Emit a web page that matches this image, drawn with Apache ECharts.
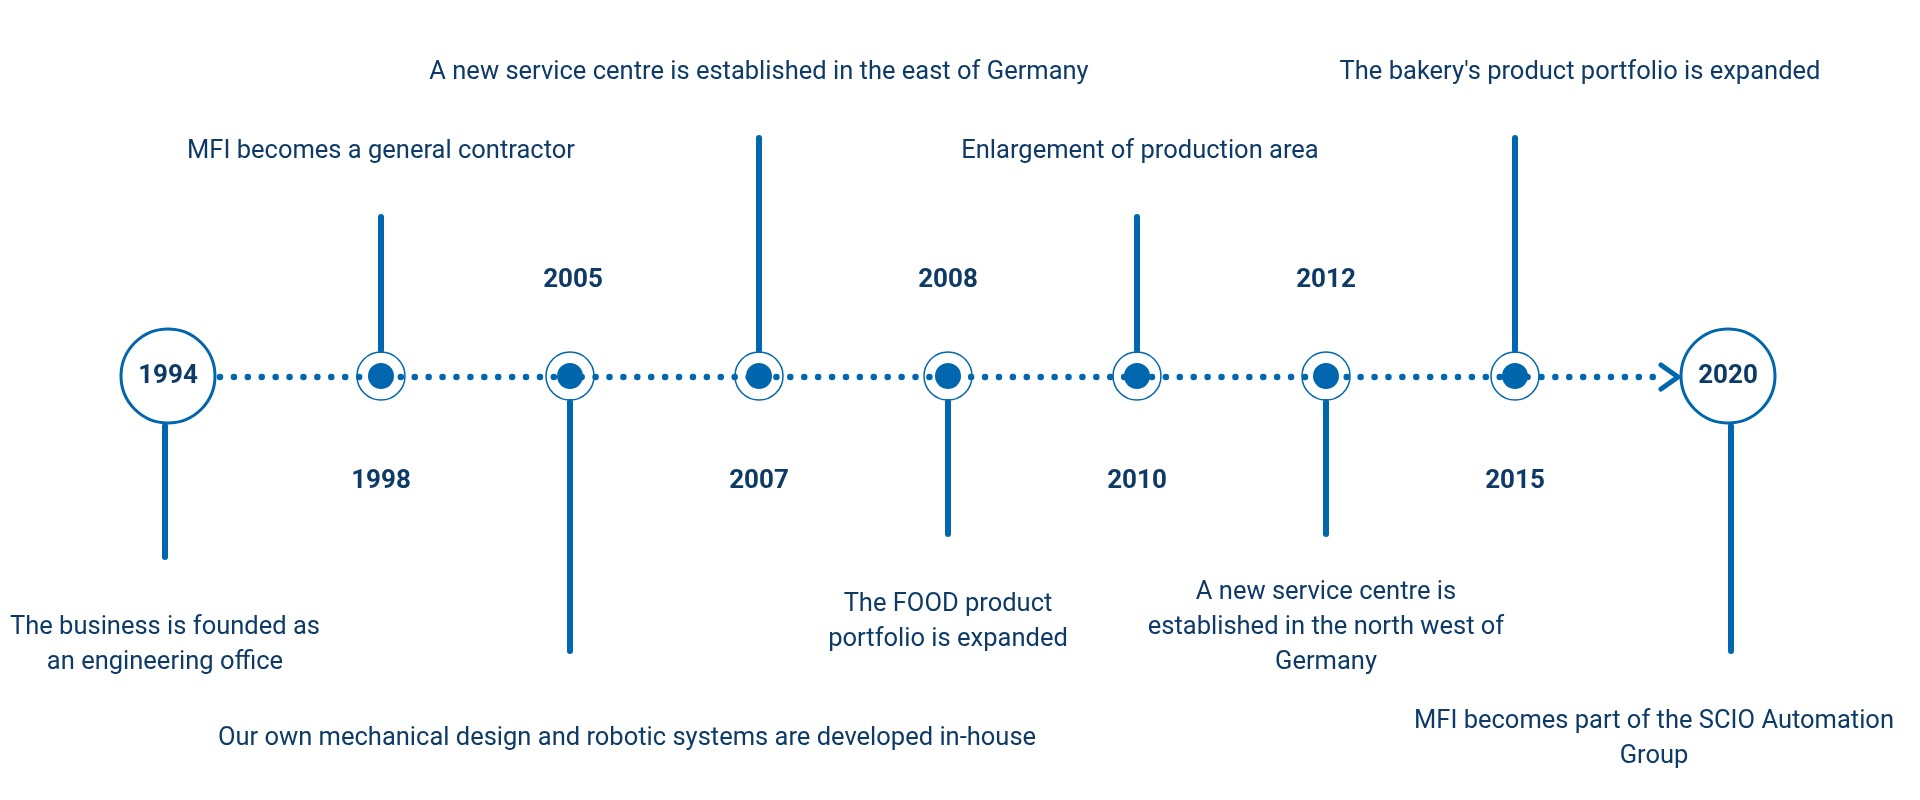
<!DOCTYPE html>
<html>
<head>
<meta charset="utf-8">
<script src="https://cdn.jsdelivr.net/npm/echarts@6/dist/echarts.min.js"></script>
<style>
html,body{margin:0;padding:0;background:#ffffff;}
#chart{width:1920px;height:800px;}
</style>
</head>
<body>
<div id="chart"></div>
<script>
// ---- data ----
const years = ['1994', '1998', '2005', '2007', '2008', '2010', '2012', '2015', '2020'];
const slots = [-0.127, 1, 2, 3, 4, 5, 6, 7, 8.127];
const milestone = [true, false, false, false, false, false, false, false, true];
const stemEnd = [-181, 159, -275, 238, -158, 159, -158, 238, -275];
const events = [
  'The business is founded as\nan engineering office',
  'MFI becomes a general contractor',
  'Our own mechanical design and robotic systems are developed in-house',
  'A new service centre is established in the east of Germany',
  'The FOOD product\nportfolio is expanded',
  'Enlargement of production area',
  'A new service centre is\nestablished in the north west of\nGermany',
  "The bakery's product portfolio is expanded",
  'MFI becomes part of the SCIO Automation\nGroup'
];

// ---- layout / style ----
const textShift = [-3, 0, 57, 0, 0, 3, 0, 65, -74];
const textDy = [0, 0, 0, 0, 0, 0, 6, 0, 0];
const BLUE = '#0066ad';
const NAVY = '#0d3a66';
const FONT = 'Roboto, "Noto Sans", sans-serif';

const chart = echarts.init(document.getElementById('chart'), null, {renderer: 'canvas'});

function renderTimeline(params, api) {
  const a = api.coord([api.value(0), 0]);
  const b = api.coord([api.value(1), 0]);
  const y = a[1] + 1;
  const x1 = a[0] + 52;
  const tip = b[0] - 50;
  return {
    type: 'group',
    children: [
      {type: 'line', shape: {x1: x1, y1: y, x2: tip - 12, y2: y},
       style: {stroke: BLUE, lineWidth: 6.5, lineCap: 'round', lineDash: [0.01, 13.9]}},
      {type: 'polyline', shape: {points: [[tip - 17, y - 12], [tip, y], [tip - 17, y + 12]]},
       style: {stroke: BLUE, lineWidth: 5, lineCap: 'round', lineJoin: 'round', fill: null}}
    ]
  };
}

function renderEvent(params, api) {
  const i = api.value(2);
  const p = api.coord([api.value(0), 0]);
  const cx = p[0], cy = p[1];
  const end = api.coord([api.value(0), api.value(1)])[1];
  const big = milestone[i];
  const up = api.value(1) > 0;
  const r0 = big ? 50 : 26;
  const sx = big ? (i === 0 ? -3 : 3) : 0;
  const ch = [];
  ch.push({type: 'line', shape: {x1: cx + sx, y1: up ? cy - r0 : cy + r0, x2: cx + sx, y2: end},
           style: {stroke: BLUE, lineWidth: 6, lineCap: 'round'}});
  if (big) {
    ch.push({type: 'circle', shape: {cx: cx, cy: cy, r: 47},
             style: {fill: '#ffffff', stroke: BLUE, lineWidth: 3}});
    ch.push({type: 'text', x: cx, y: cy,
             style: {text: years[i], fill: NAVY, font: 'bold 26px ' + FONT, align: 'center', verticalAlign: 'middle'}});
  } else {
    ch.push({type: 'circle', shape: {cx: cx, cy: cy, r: 24},
             style: {fill: null, stroke: BLUE, lineWidth: 1.5}});
    ch.push({type: 'circle', shape: {cx: cx, cy: cy, r: 13}, style: {fill: BLUE}});
    ch.push({type: 'text', x: cx + (i === 2 ? 3 : 0), y: up ? cy + 105 : cy - 96,
             style: {text: years[i], fill: NAVY, font: 'bold 26px ' + FONT, align: 'center', verticalAlign: 'middle'}});
  }
  ch.push({type: 'text', x: cx + textShift[i], y: (up ? end - 65 : end + 88) + textDy[i],
           style: {text: events[i], fill: NAVY, font: '25.5px ' + FONT, lineHeight: 35,
                   align: 'center', verticalAlign: 'middle'}});
  return {type: 'group', children: ch};
}

chart.setOption({
  animation: false,
  backgroundColor: '#ffffff',
  grid: {left: 3, right: 27, top: 0, bottom: 0},
  xAxis: {type: 'value', min: -1, max: 9, show: false},
  yAxis: {type: 'value', min: -424, max: 376, show: false},
  series: [
    {type: 'custom', renderItem: renderTimeline, data: [[slots[0], slots[slots.length - 1]]], silent: true, z: 1},
    {type: 'custom', renderItem: renderEvent,
     data: years.map((y, i) => [slots[i], stemEnd[i], i]), silent: true, z: 2}
  ]
});
</script>
</body>
</html>
